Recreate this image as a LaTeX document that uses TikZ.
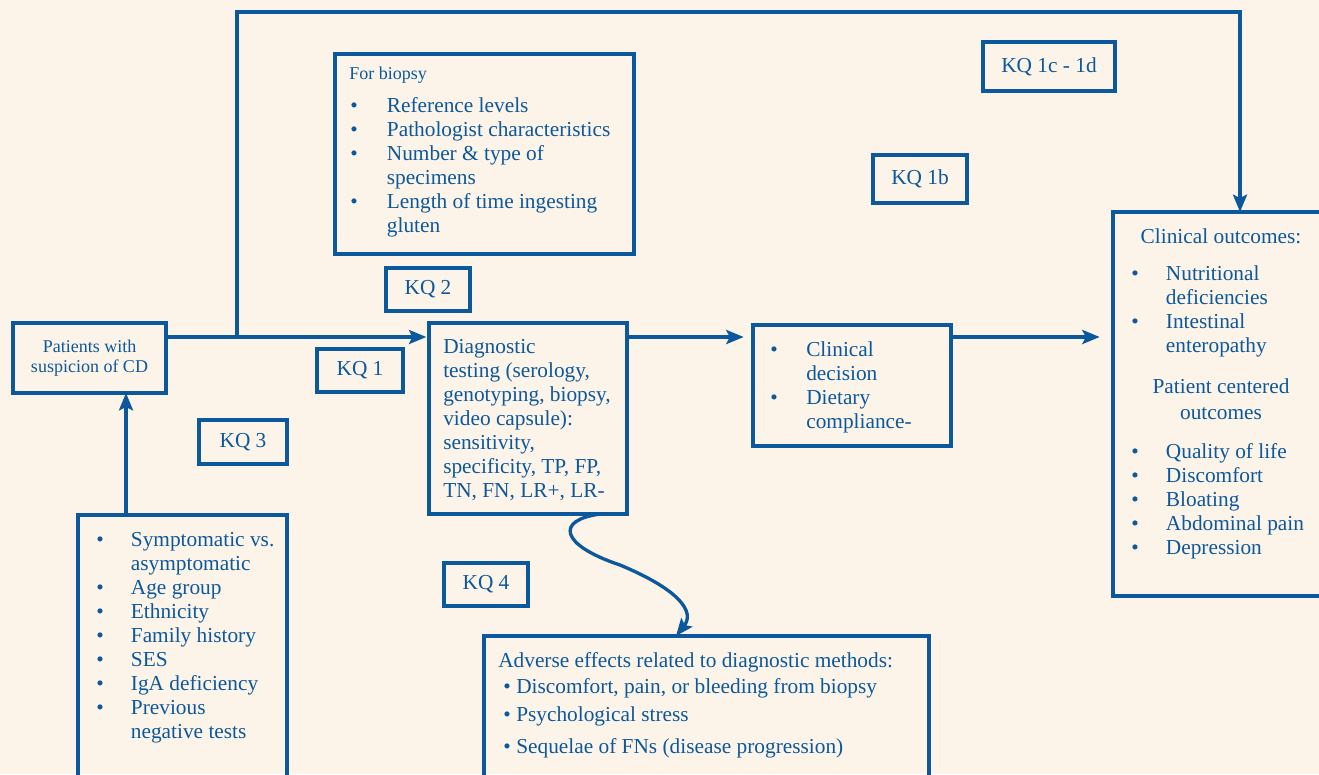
\documentclass[tikz,border=0pt]{standalone}
\usepackage{fontspec}
\setmainfont{Liberation Serif}
\usetikzlibrary{arrows.meta}
\definecolor{kqblue}{RGB}{12,88,156}
\definecolor{kqbg}{RGB}{253,244,233}
\newcommand{\itm}[1][26pt]{\makebox[#1][l]{\textbullet}}
\newcommand{\cont}[1][26pt]{\hspace*{#1}}

\begin{document}
\begin{tikzpicture}[x=0.75pt, y=-0.75pt,
    box/.style={draw=kqblue, line width=2.5pt, inner sep=0pt, outer sep=0pt, anchor=north west, text=kqblue, font=\fontsize{16}{18}\selectfont},
    txt/.style={anchor=north west, inner sep=0pt, align=left, text=kqblue, font=\fontsize{16}{18}\selectfont},
    arr/.style={draw=kqblue, line width=2.5pt, -{Stealth[length=13pt,width=10.5pt,inset=2.5pt]}}]
    \useasboundingbox (0,0) rectangle (1319,774);
    \fill[kqbg] (0,0) rectangle (1319,774);

    % boxes
    \node[box, minimum width=114.75pt, minimum height=52.5pt, align=center, font=\fontsize{13.5}{15}\selectfont] (pat) at (13,323) {Patients with\\suspicion of CD};
    \node[box, minimum width=224.25pt, minimum height=150pt] (biopsy) at (335,54) {};
    \node[box, minimum width=148.5pt, minimum height=143.25pt] (diag) at (429,323) {};
    \node[box, minimum width=148.5pt, minimum height=90.75pt] (decis) at (753,325) {};
    \node[box, minimum width=170.25pt, minimum height=288pt] (outc) at (1113,212) {};
    \node[box, minimum width=156.75pt, minimum height=213.75pt] (factors) at (78,515) {};
    \node[box, minimum width=333.75pt, minimum height=123pt] (adverse) at (484,636) {};

    % key questions
    \node[box, minimum width=64.5pt, minimum height=32.25pt] (kq1) at (317,349) {KQ 1};
    \node[box, minimum width=63pt, minimum height=32.25pt] (kq2) at (386,268) {KQ 2};
    \node[box, minimum width=66pt, minimum height=33pt] (kq3) at (199,420) {KQ 3};
    \node[box, minimum width=63pt, minimum height=32.25pt] (kq4) at (444,563) {KQ 4};
    \node[box, minimum width=70.5pt, minimum height=36pt] (kq1b) at (873,155) {KQ 1b};
    \node[box, minimum width=99pt, minimum height=36.75pt] (kq1cd) at (983,42) {KQ 1c - 1d};

    % box texts
    \node[txt, font=\fontsize{13.5}{15}\selectfont] (biopsy-head) at (349,67) {For biopsy};
    \node[txt] (biopsy-list) at (350,97) {\itm[27.5pt]Reference levels\\ \itm[27.5pt]Pathologist characteristics\\ \itm[27.5pt]Number \& type of\\ \cont[27.5pt]specimens\\ \itm[27.5pt]Length of time ingesting\\ \cont[27.5pt]gluten};
    \node[txt] (diag-txt) at (443,339) {Diagnostic\\testing (serology,\\genotyping, biopsy,\\video capsule):\\sensitivity,\\specificity, TP, FP,\\TN, FN, LR+, LR-};
    \node[txt] (decis-txt) at (770,341) {\itm[27pt]Clinical\\ \cont[27pt]decision\\ \itm[27pt]Dietary\\ \cont[27pt]compliance-};
    \node[txt, anchor=north] (outc-head) at (1221,228) {Clinical outcomes:};
    \node[txt] (outc-list1) at (1131,265) {\itm Nutritional\\ \cont deficiencies\\ \itm Intestinal\\ \cont enteropathy};
    \node[txt, anchor=north, align=center, font=\fontsize{16}{20}\selectfont] (outc-mid) at (1221,378) {Patient centered\\outcomes};
    \node[txt] (outc-list2) at (1131,443) {\itm Quality of life\\ \itm Discomfort\\ \itm Bloating\\ \itm Abdominal pain\\ \itm Depression};
    \node[txt] (factors-txt) at (96,532) {\itm Symptomatic vs.\\ \cont asymptomatic\\ \itm Age group\\ \itm Ethnicity\\ \itm Family history\\ \itm SES\\ \itm IgA deficiency\\ \itm Previous\\ \cont negative tests};
    \node[txt] (adverse-txt) at (498,652) {Adverse effects related to diagnostic methods:\\[1.5pt] \hspace*{3.75pt}\itm[9.75pt]Discomfort, pain, or bleeding from biopsy\\[3pt] \hspace*{3.75pt}\itm[9.75pt]Psychological stress\\[6pt] \hspace*{3.75pt}\itm[9.75pt]Sequelae of FNs (disease progression)};

    % connectors
    \coordinate (split) at (237,337);
    \coordinate (loopc) at (1240,12);
    \coordinate (lift) at (126,0);
    \coordinate (bend) at (620,565);
    \draw[arr, shorten >=2pt] (pat.east |- split) -- (diag.west |- split);
    \draw[arr, shorten >=7pt] (diag.east |- split) -- (decis.west |- split);
    \draw[arr, shorten >=10pt] (decis.east |- split) -- (outc.west |- split);
    \draw[arr] (split) |- (loopc) -- (loopc |- outc.north);
    \draw[arr] (factors.north -| lift) -- (pat.south -| lift);
    \draw[arr] ([xshift=-20pt]diag.south east) .. controls (555,520) and (560,545) .. (bend) .. controls (680,590) and (695,612) .. ([xshift=144pt]adverse.north west);
\end{tikzpicture}
\end{document}
